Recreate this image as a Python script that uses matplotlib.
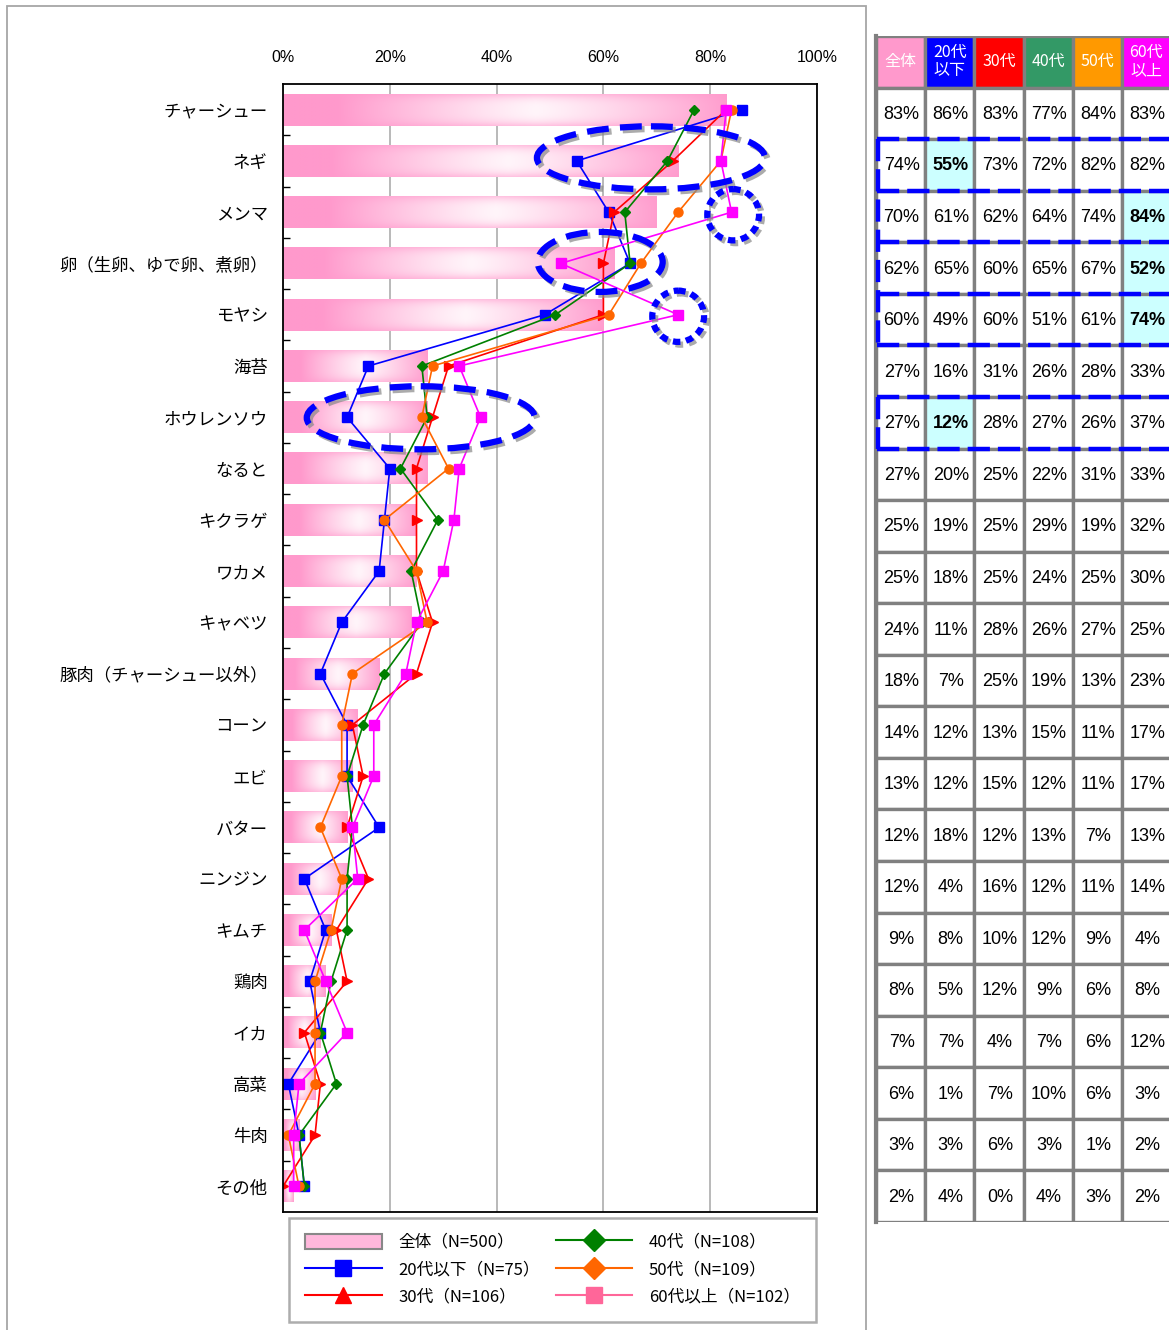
import numpy as np
import matplotlib
matplotlib.use("Agg")
import matplotlib.pyplot as plt
from matplotlib.patches import Ellipse, Rectangle, Patch
from matplotlib.lines import Line2D
import matplotlib.patheffects as pe

plt.rcParams['font.family'] = ['Noto Sans CJK JP', 'DejaVu Sans']

items = ["チャーシュー", "ネギ", "メンマ", "卵（生卵、ゆで卵、煮卵）", "モヤシ", "海苔",
         "ホウレンソウ", "なると", "キクラゲ", "ワカメ", "キャベツ", "豚肉（チャーシュー以外）",
         "コーン", "エビ", "バター", "ニンジン", "キムチ", "鶏肉", "イカ", "高菜", "牛肉", "その他"]
total = [83, 74, 70, 62, 60, 27, 27, 27, 25, 25, 24, 18, 14, 13, 12, 12, 9, 8, 7, 6, 3, 2]
age20 = [86, 55, 61, 65, 49, 16, 12, 20, 19, 18, 11, 7, 12, 12, 18, 4, 8, 5, 7, 1, 3, 4]
age30 = [83, 73, 62, 60, 60, 31, 28, 25, 25, 25, 28, 25, 13, 15, 12, 16, 10, 12, 4, 7, 6, 0]
age40 = [77, 72, 64, 65, 51, 26, 27, 22, 29, 24, 26, 19, 15, 12, 13, 12, 12, 9, 7, 10, 3, 4]
age50 = [84, 82, 74, 67, 61, 28, 26, 31, 19, 25, 27, 13, 11, 11, 7, 11, 9, 6, 6, 6, 1, 3]
age60 = [83, 82, 84, 52, 74, 33, 37, 33, 32, 30, 25, 23, 17, 17, 13, 14, 4, 8, 12, 3, 2, 2]

legend_labels = ["全体（N=500）", "20代以下（N=75）", "30代（N=106）",
                 "40代（N=108）", "50代（N=109）", "60代以上（N=102）"]
header = ["全体", "20代\n以下", "30代", "40代", "50代", "60代\n以上"]
header_colors = ["#FF99CC", "#0000FF", "#FF0000", "#339966", "#FF9900", "#FF00FF"]
# cells highlighted in the table: (row, column)
highlight = [(1, 1), (2, 5), (3, 5), (4, 5), (6, 1)]

W, H = 1169, 1330
fig = plt.figure(figsize=(W / 100, H / 100), dpi=100)

# outer frame round the chart part
fig.add_artist(Rectangle((7 / W, -0.01), (866 - 7) / W, 1 - 6 / H + 0.01,
                         transform=fig.transFigure, fill=False, ec="#A6A6A6", lw=1.3))

ax = fig.add_axes([283 / W, 1 - 1212 / H, 534 / W, 1128 / H])
n = len(items)
pos = np.arange(n)

# gradient bars
pink = np.array([1.0, 0.6, 0.8])
tt = np.linspace(0, 1, 200)
ss = np.linspace(-1, 1, 40)
T, S = np.meshgrid(tt, ss)
ph = np.clip(np.abs(T - 0.57) / 0.45, 0, 1) ** 1.2
pv = np.abs(S) ** 3
p = 1 - (1 - ph) * (1 - 0.55 * pv)
p = 0.1 + 0.9 * p
grad = 1 - p[..., None] * (1 - pink[None, None, :])
bh = 0.62
for i, v in enumerate(total):
    ax.imshow(grad, extent=(0, v, i + bh / 2, i - bh / 2), aspect="auto",
              interpolation="bilinear", zorder=2)

series = [
    (age20, "#0000FF", "s", 6.5),
    (age30, "#FF0000", ">", 7.5),
    (age40, "#008000", "D", 5.5),
    (age50, "#FF6600", "o", 6.5),
    (age60, "#FF00FF", "s", 6.5),
]
for vals, c, m, ms in series:
    ax.plot(vals, pos, color=c, lw=1.2, marker=m, ms=ms, mec=c, mfc=c, zorder=4)

ax.set_xlim(0, 100)
ax.set_ylim(n - 0.5, -0.5)
ax.set_xticks([0, 20, 40, 60, 80, 100])
ax.set_xticklabels([f"{v}%" for v in range(0, 101, 20)], family=["Liberation Sans", "DejaVu Sans"],
                   fontsize=11.5)
ax.xaxis.tick_top()
ax.tick_params(axis="x", length=0, pad=14)
ax.set_yticks(pos)
ax.set_yticklabels(items, fontsize=12.5)
ax.tick_params(axis="y", length=0, pad=11)
ax.set_yticks(pos[:-1] + 0.5, minor=True)
ax.tick_params(axis="y", which="minor", direction="in", length=5, width=1)
ax.grid(axis="x", color="#A6A6A6", lw=1.1, zorder=1)
ax.set_axisbelow(True)
for sp in ax.spines.values():
    sp.set_linewidth(1.3)
    sp.set_zorder(6)

# highlight ellipses with shadow
shadow = [pe.SimpleLineShadow(offset=(2, -2), shadow_color="#888888", alpha=0.7), pe.Normal()]
for cx, cy, w, h, ls in [(68.9, 0.94, 42.7, 1.23, (0, (3.5, 1.8))),
                         (84.3, 2.05, 9.7, 1.0, (0, (1.2, 0.9))),
                         (59.4, 2.97, 23.4, 1.17, (0, (3.5, 1.8))),
                         (74.0, 4.03, 9.7, 1.0, (0, (1.2, 0.9))),
                         (25.8, 6.01, 42.7, 1.23, (0, (3.5, 1.8)))]:
    e = Ellipse((cx, cy), w, h, fill=False, ec="#0000FF", lw=4.5, ls=ls, zorder=7,
                clip_on=False, path_effects=shadow)
    ax.add_patch(e)

# legend
bar_handle = Patch(facecolor="#FFB8DC", edgecolor="#888888", lw=1.5)
handles = [
    bar_handle,
    Line2D([], [], color="#0000FF", lw=1.5, marker="s", ms=11),
    Line2D([], [], color="#FF0000", lw=1.5, marker="^", ms=12),
    Line2D([], [], color="#008000", lw=1.5, marker="D", ms=11),
    Line2D([], [], color="#FF6600", lw=1.5, marker="D", ms=11),
    Line2D([], [], color="#FF6699", lw=1.5, marker="s", ms=11),
]
leg = fig.legend(handles, legend_labels, loc="lower left", ncol=2,
                 bbox_to_anchor=(281 / W, 1 - 1330 / H, 543 / W, 110 / H), mode="expand",
                 fontsize=12, frameon=True, fancybox=False, edgecolor="#999999",
                 handlelength=4.6, handleheight=1.0, labelspacing=0.62, borderpad=0.95,
                 handletextpad=1.0, columnspacing=0.5)
leg.get_frame().set_linewidth(1.8)

# table on the right
tx = fig.add_axes([876 / W, 1 - 1222 / H, 295 / W, 1186 / H])
tx.set_xlim(0, 6)
tx.set_ylim(n + 1, 0)
tx.axis("off")
cols = [total, age20, age30, age40, age50, age60]
for j in range(6):
    tx.add_patch(Rectangle((j, 0), 1, 1, fc=header_colors[j], ec="#808080", lw=2.4))
    tx.text(j + 0.5, 0.5, header[j], ha="center", va="center", color="white",
            fontsize=11.5, linespacing=1.05)
    for i in range(n):
        hl = (i, j) in highlight
        tx.add_patch(Rectangle((j, i + 1), 1, 1, fc="#CCFFFF" if hl else "white",
                               ec="#808080", lw=2.4))
        tx.text(j + 0.52, i + 1.52, f"{cols[j][i]}%", ha="center", va="center",
                fontsize=13, family=["Liberation Sans", "DejaVu Sans"],
                fontweight="bold" if hl else "normal")
tx.plot([0, 0], [0, n + 1], color="#808080", lw=3, clip_on=False)

# dashed blue frames in the table
dash = (0, (5, 1.8))
for y in [2, 3, 4, 5, 6, 7, 8]:
    tx.plot([0.02, 6], [y, y], color="#0000FF", lw=3.2, ls=dash, clip_on=False, zorder=5)
for y0, y1 in [(2, 6), (7, 8)]:
    tx.plot([0.04, 0.04], [y0, y1], color="#0000FF", lw=3.2, ls=dash, clip_on=False, zorder=5)

fig.savefig("out.png", dpi=100)
